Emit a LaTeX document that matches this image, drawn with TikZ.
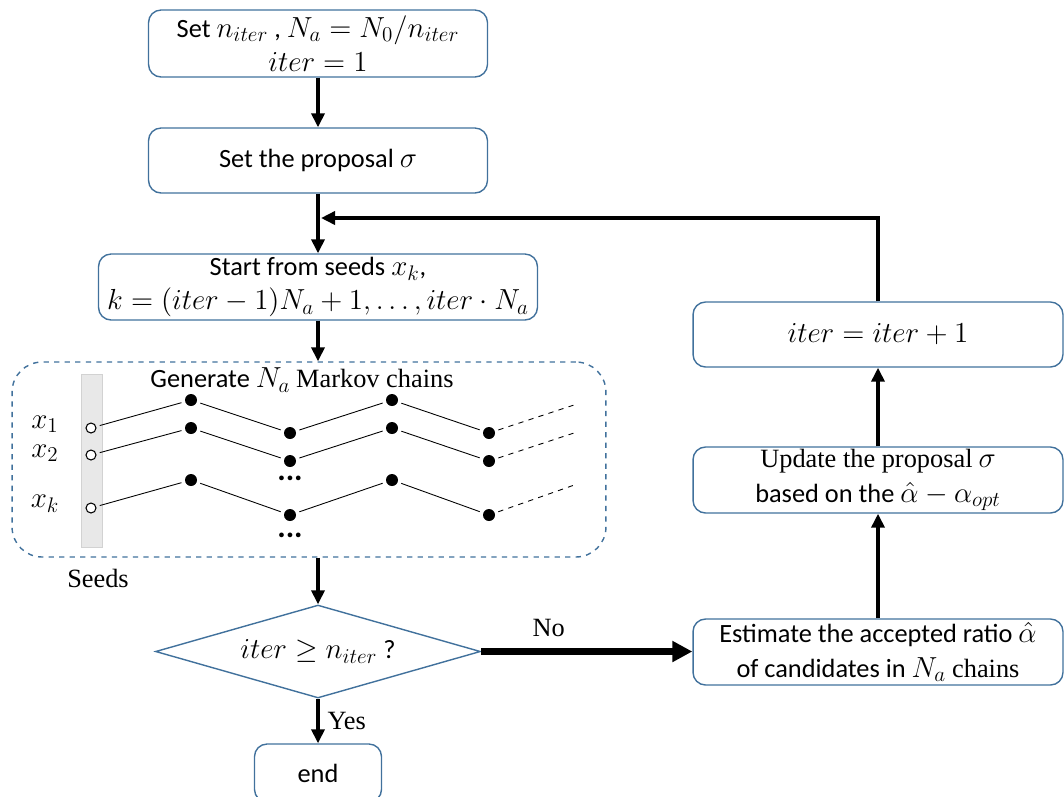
\RequirePackage{fix-cm}
\documentclass[tikz,border=0pt]{standalone}
\usepackage{fontspec}
\setmainfont{Carlito}
\newfontfamily\rmtimes{Liberation Serif}
\DeclareMathSizes{15}{16.5}{12}{10}
\DeclareMathSizes{18}{18}{13}{10}
\usetikzlibrary{shapes.geometric,arrows.meta,positioning}

\definecolor{boxblue}{RGB}{65,113,156}
\tikzset{
  stepbox/.style={draw=boxblue, line width=0.8pt, rounded corners=0.25cm, align=center, inner sep=0pt},
  decision/.style={diamond, draw=boxblue, line width=0.8pt, aspect=3, inner sep=0pt},
  flow/.style={-{Triangle[length=0.28cm,width=0.26cm]}, line width=2.2pt},
  seed/.style={circle, draw, fill=white, inner sep=0pt, minimum size=0.2cm, line width=0.6pt},
  state/.style={circle, fill=black, inner sep=0pt, minimum size=0.24cm},
  link/.style={line width=0.5pt, shorten >=2pt, shorten <=2pt},
  serif/.style={font=\rmtimes\fontsize{15}{18}\selectfont},
  twoline/.style={font=\fontsize{15}{19.5}\selectfont},
}

\begin{document}
\begin{tikzpicture}[x=0.02cm, y=-0.02cm, font=\fontsize{15}{18}\selectfont]
\useasboundingbox (0,0) rectangle (1064,796);

% left column
\node[stepbox, twoline, minimum width=6.78cm, minimum height=1.34cm] (set) at (318,43.5) {Set $n_{iter}$ , $N_a=N_0/n_{iter}$\\ $iter=1$};
\node[stepbox, minimum width=6.78cm, minimum height=1.3cm] (proposal) at (318,160.5) {Set the proposal $\sigma$};
\node[stepbox, twoline, minimum width=8.78cm, minimum height=1.32cm] (seeds) at (318,287) {Start from seeds $x_k$,\\ $k=(iter-1)N_a+1,\ldots,iter\cdot N_a$};

% markov chains
\node[draw=boxblue, dashed, line width=0.8pt, rounded corners=0.6cm, minimum width=11.88cm, minimum height=3.9cm] (chains) at (309,459.5) {};
\fill[gray!18, draw=gray!35] (81,374) rectangle (102,547);
\node (gen) at (302,380) {Generate $N_a$ {\rmtimes Markov chains}};

\node (x1) at (45,424) {$x_1$};
\node (x2) at (45,453) {$x_2$};
\node (xk) at (45,504) {$x_k$};

\foreach \r/\ya/\yb/\ys in {1/400/433/428, 2/428/461/455, k/480/515/508} {
  \node[seed] (s\r) at (91,\ys) {};
  \node[state] (m\r1) at (191,\ya) {};
  \node[state] (m\r2) at (290,\yb) {};
  \node[state] (m\r3) at (392,\ya) {};
  \node[state] (m\r4) at (489,\yb) {};
  \coordinate (e\r) at (580,\ya+3);
  \draw[link] (s\r) -- (m\r1);
  \draw[link] (m\r1) -- (m\r2);
  \draw[link] (m\r2) -- (m\r3);
  \draw[link] (m\r3) -- (m\r4);
  \draw[link, dashed] (m\r4) -- (e\r);
}

\node[font=\bfseries\fontsize{18}{18}\selectfont] (dotsa) at (290,478) {...};
\node[font=\bfseries\fontsize{18}{18}\selectfont] (dotsb) at (290,535) {...};
\node[serif] (seedlbl) at (98,578) {Seeds};

% decision and end
\node[decision, minimum width=6.5cm, minimum height=1.86cm] (check) at (318,651.5) {$iter\geq n_{iter}$ ?};
\node[stepbox, minimum width=2.54cm, minimum height=1.16cm] (stop) at (318,773) {end};

% right column
\node[stepbox, minimum width=7.4cm, minimum height=1.3cm] (incr) at (878,334.5) {$iter=iter+1$};
\node[stepbox, twoline, minimum width=7.4cm, minimum height=1.32cm] (update) at (878,480) {{\rmtimes Update the proposal} $\sigma$\\ based on the $\hat{\alpha}-\alpha_{opt}$};
\node[stepbox, twoline, minimum width=7.4cm, minimum height=1.32cm] (estimate) at (878,652) {Estimate the accepted ratio $\hat{\alpha}$\\ of candidates in $N_a$ {\rmtimes chains}};

\coordinate (join) at (321,218);

% arrows
\draw[flow] (set) -- (proposal);
\draw[flow] (proposal) -- (seeds);
\draw[flow] (seeds.south) -- (seeds.south |- chains.north);
\draw[flow] (check.north |- chains.south) -- (check.north);
\draw[flow] (check.south) -- node[serif, right, xshift=1pt] {Yes} (stop.north);
\draw[-{Triangle[length=0.4cm,width=0.4cm]}, line width=4pt] (check.east) -- node[serif, above, pos=0.32, yshift=3pt] {No} (check.east -| estimate.west);
\draw[flow] (estimate) -- (update);
\draw[flow] (update) -- (incr);
\draw[flow] (incr.north) |- (join);

\end{tikzpicture}
\end{document}
